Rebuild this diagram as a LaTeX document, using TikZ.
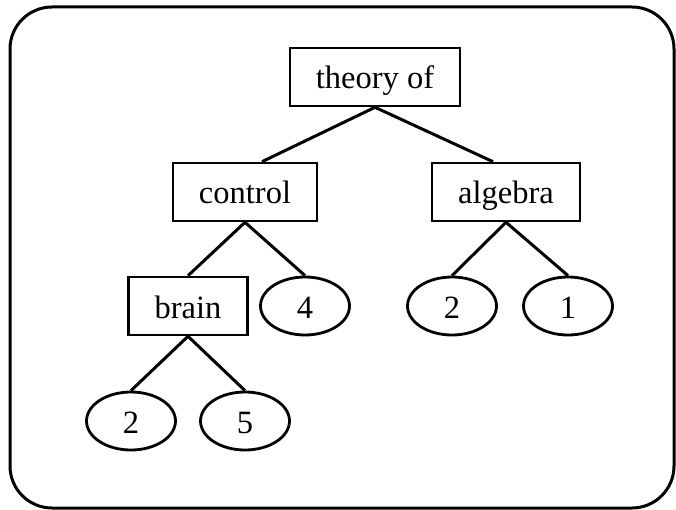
\documentclass[tikz,border=0pt]{standalone}
\usepackage{fontspec}
\setmainfont{Liberation Serif}
\usetikzlibrary{shapes.geometric}

\begin{document}
\begin{tikzpicture}[
  x=1pt, y=-1pt,
  box/.style={draw, line width=2.6pt, minimum height=58pt, inner xsep=26pt,
              text height=24pt, text depth=0pt,
              font=\fontsize{32.5}{39}\selectfont},
  leaf/.style={draw, ellipse, line width=2.8pt, minimum width=89pt,
               minimum height=58pt, inner sep=0pt,
               text height=24pt, text depth=0pt,
               font=\fontsize{32.5}{39}\selectfont},
  link/.style={line width=3pt}
]
  \useasboundingbox (0,0) rectangle (676,510);
  \draw[line width=3pt, rounded corners=42pt] (10,7) rectangle (674,508);

  \node[box] (theory)  at (375,77)  {theory of};
  \node[box] (control) at (245,192) {control};
  \node[box] (algebra) at (506,192) {algebra};
  \node[box] (brain)   at (188,306) {brain};
  \node[leaf] (four)   at (305,306) {4};
  \node[leaf] (twoA)   at (452,306) {2};
  \node[leaf] (one)    at (568,306) {1};
  \node[leaf] (twoB)   at (131,421) {2};
  \node[leaf] (five)   at (245,421) {5};

  \draw[link] (theory.south) -- ([xshift=17pt]control.north);
  \draw[link] (theory.south) -- ([xshift=-13pt]algebra.north);
  \draw[link] (control.south) -- (brain.north);
  \draw[link] (control.south) -- (four.north);
  \draw[link] (algebra.south) -- (twoA.north);
  \draw[link] (algebra.south) -- (one.north);
  \draw[link] (brain.south) -- (twoB.north);
  \draw[link] (brain.south) -- (five.north);
\end{tikzpicture}
\end{document}
